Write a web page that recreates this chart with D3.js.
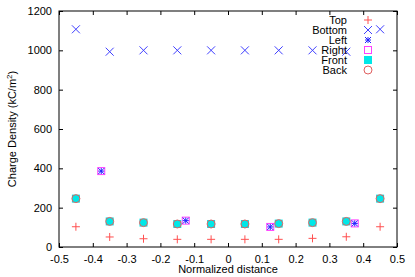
<!DOCTYPE html>
<html><head><meta charset="utf-8">
<script src="https://cdn.jsdelivr.net/npm/d3@7"></script>
<style>body{margin:0;background:#fff}svg{display:block}text{font-family:"Liberation Sans",Arial,sans-serif;font-size:11px;fill:#000}</style>
</head><body>
<script>
const xsA = [-0.45,-0.35,-0.25,-0.15,-0.05,0.05,0.15,0.25,0.35,0.45];
const topVals = [103,51,42,39,39,39,39,44,52,103];
const bottomVals = [1107,993,1000,1000,1000,1000,1000,1000,993,1107];
const xsB = [-0.375,-0.125,0.125,0.375];
const leftVals = [386,134,102,120];
const rightVals = [386,134,102,120];
const frontVals = [246,130,124,117,117,117,119,124,130,246];
const backVals = [246,130,124,117,117,117,119,124,130,246];
const xTicks = [-0.5,-0.4,-0.3,-0.2,-0.1,0,0.1,0.2,0.3,0.4,0.5];
const yTicks = [0,200,400,600,800,1000,1200];
const legendNames = ["Top","Bottom","Left","Right","Front","Back"];

const W=415,H=277, L=59, R=397, T=11, B=247;
const svg=d3.select("body").append("svg").attr("width",W).attr("height",H);
const x=d3.scaleLinear().domain([-0.5,0.5]).range([L,R]);
const y=d3.scaleLinear().domain([0,1200]).range([B,T]);

const tl=4;
svg.append("g").attr("transform",`translate(0,${B})`).call(d3.axisBottom(x).tickValues(xTicks).tickSize(-tl).tickPadding(8).tickFormat(d=>d===0?"0":String(+d.toFixed(1))))
 .call(g=>{g.select(".domain").remove();g.selectAll("line").attr("stroke","#000");g.selectAll("text").attr("font-size",11).attr("font-family","Liberation Sans, Arial, sans-serif");});
svg.append("g").attr("transform",`translate(0,${T})`).call(d3.axisTop(x).tickValues(xTicks).tickSize(-tl).tickFormat(""))
 .call(g=>{g.select(".domain").remove();g.selectAll("line").attr("stroke","#000");});
svg.append("g").attr("transform",`translate(${L},0)`).call(d3.axisLeft(y).tickValues(yTicks).tickSize(-tl).tickPadding(7).tickFormat(d3.format("d")))
 .call(g=>{g.select(".domain").remove();g.selectAll("line").attr("stroke","#000");g.selectAll("text").attr("font-size",11).attr("font-family","Liberation Sans, Arial, sans-serif");});
svg.append("g").attr("transform",`translate(${R},0)`).call(d3.axisRight(y).tickValues(yTicks).tickSize(-tl).tickFormat(""))
 .call(g=>{g.select(".domain").remove();g.selectAll("line").attr("stroke","#000");});
svg.append("rect").attr("x",L).attr("y",T).attr("width",R-L).attr("height",B-T).attr("fill","none").attr("stroke","#000").attr("stroke-width",1);

svg.append("text").attr("x",(L+R)/2).attr("y",273).attr("text-anchor","middle").text("Normalized distance");
const yl=svg.append("text").attr("transform",`translate(16,${(T+B)/2}) rotate(-90)`).attr("text-anchor","middle");
yl.append("tspan").text("Charge Density (kC/m");
yl.append("tspan").attr("dy",-4).attr("font-size",8).text("2");
yl.append("tspan").attr("dy",4).text(")");

const s=4;
function plus(g,cx,cy,c){g.append("path").attr("d",`M${cx-s},${cy}H${cx+s}M${cx},${cy-s}V${cy+s}`).attr("stroke",c).attr("stroke-width",1).attr("fill","none");}
function cross(g,cx,cy,c){g.append("path").attr("d",`M${cx-s},${cy-s}L${cx+s},${cy+s}M${cx-s},${cy+s}L${cx+s},${cy-s}`).attr("stroke",c).attr("stroke-width",1).attr("fill","none");}
function star(g,cx,cy,c){const a=3;g.append("path").attr("d",`M${cx-a},${cy-a}L${cx+a},${cy+a}M${cx-a},${cy+a}L${cx+a},${cy-a}M${cx-a},${cy}H${cx+a}M${cx},${cy-a}V${cy+a}`).attr("stroke",c).attr("stroke-width",1).attr("fill","none");}
function box(g,cx,cy,c){g.append("rect").attr("x",cx-s+0.5).attr("y",cy-s+0.5).attr("width",2*s-1).attr("height",2*s-1).attr("stroke",c).attr("fill","none");}
function fbox(g,cx,cy,c){g.append("rect").attr("x",cx-s).attr("y",cy-s).attr("width",2*s).attr("height",2*s).attr("fill",c);}
function circ(g,cx,cy,c){g.append("circle").attr("cx",cx).attr("cy",cy).attr("r",s).attr("stroke",c).attr("fill","none");}

const series=[
 {xs:xsA,v:topVals,f:plus,c:"#ff5050"},
 {xs:xsA,v:bottomVals,f:cross,c:"#4040ff"},
 {xs:xsB,v:leftVals,f:star,c:"#2020ff"},
 {xs:xsB,v:rightVals,f:box,c:"#ff40ff"},
 {xs:xsA,v:frontVals,f:fbox,c:"#00e8e8"},
 {xs:xsA,v:backVals,f:circ,c:"#e06060"}
];
const order=[0,1,3,2,4,5];
const pg=svg.append("g");
order.forEach(i=>{const sr=series[i];sr.xs.forEach((xv,j)=>sr.f(pg,x(xv),y(sr.v[j]),sr.c));});

const lg=svg.append("g");
legendNames.forEach((n,i)=>{
 const yy=20+i*10;
 lg.append("text").attr("x",347).attr("y",yy+4).attr("text-anchor","end").attr("font-size",10.5).text(n);
 series[i].f(lg,368,yy,series[i].c);
});
</script>
</body></html>
